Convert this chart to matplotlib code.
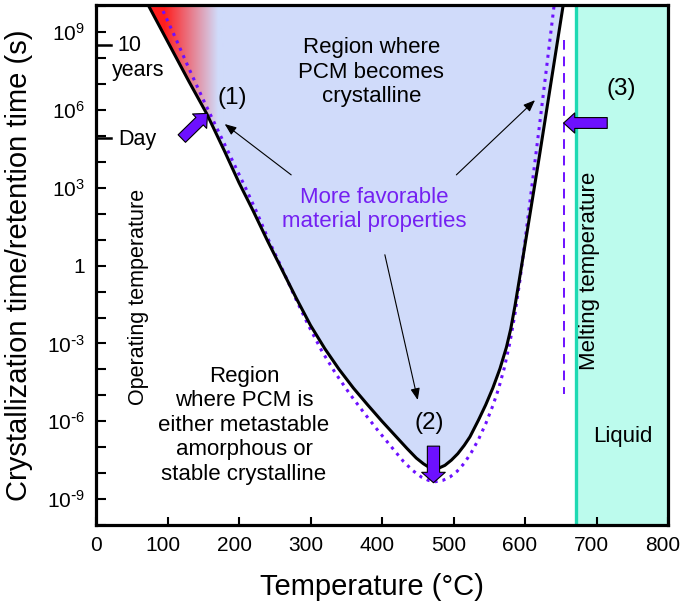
import numpy as np
import matplotlib.pyplot as plt
import matplotlib.transforms as mtransforms
from matplotlib.patches import FancyArrowPatch
from matplotlib.ticker import FixedLocator, FixedFormatter

plt.rcParams['font.family'] = ['Liberation Sans', 'DejaVu Sans']
plt.rcParams['mathtext.default'] = 'regular'

# Solid curve: crystallization time of the PCM (temperature in C, log10 of time in s)
curveTemps = [72, 100, 130, 155, 180, 200, 220, 240, 260, 280, 300, 320, 340, 360, 380,
              400, 420, 435, 448, 458, 466, 473, 480, 488, 497, 506, 515, 523, 535, 545,
              555, 565, 574, 580, 586, 592, 600, 610, 620, 630, 640, 650, 656]
curveLogTimes = [10.1, 8.65, 7.1, 5.85, 4.4, 3.2, 2.1, 0.95, -0.15, -1.25, -2.3, -3.2, -4.0, -4.72, -5.37,
                 -6.0, -6.6, -7.05, -7.42, -7.64, -7.78, -7.83, -7.8, -7.7, -7.5, -7.25, -6.93, -6.6, -5.95, -5.37,
                 -4.72, -3.97, -3.15, -2.45, -1.55, -0.55, 0.8, 2.5, 4.2, 5.95, 7.7, 9.45, 10.5]

# Dotted curve: more favorable material
betterTemps = [89, 110, 130, 150, 170, 190, 210, 225, 242, 260, 278, 297, 316, 335, 355,
               375, 395, 415, 430, 443, 455, 465, 475, 485, 495, 505, 515, 525, 535, 545,
               555, 563, 571, 579, 586, 593, 600, 610, 620, 630, 641]
betterLogTimes = [10.1, 8.85, 7.6, 6.4, 5.25, 4.1, 2.95, 2.05, 0.95, -0.1, -1.2, -2.3, -3.3, -4.15, -4.95,
                  -5.68, -6.38, -7.05, -7.55, -7.9, -8.15, -8.28, -8.33, -8.28, -8.15, -7.93, -7.62, -7.2, -6.7, -6.1,
                  -5.4, -4.75, -3.95, -2.95, -1.85, -0.55, 0.95, 3.15, 5.35, 7.6, 10.1]

meltTemp = 671
shiftedMeltTemp = 655
tenYears = 3.15e8
oneDay = 86400

xTicks = [0, 100, 200, 300, 400, 500, 600, 700, 800]
yDecades = list(range(-10, 11))
yLabelled = {9: '$10^{9}$', 6: '$10^{6}$', 3: '$10^{3}$', 0: '1',
             -3: r'$10^{\text{-}3}$', -6: r'$10^{\text{-}6}$', -9: r'$10^{\text{-}9}$'}

purple = '#6d10ff'
purpleText = '#7420f2'
fillBlue = '#d0dbfa'
liquidColor = '#bcfbed'
tealLine = '#1fd9b2'

fig = plt.figure(figsize=(6.84, 6.09), dpi=100)
ax = fig.add_axes([96/684, 84/609, 572/684, 520/609])
ax.set_yscale('log')

curveT = np.array(curveTemps)
curveY = 10.0 ** np.array(curveLogTimes)
betterT = np.array(betterTemps)
betterY = 10.0 ** np.array(betterLogTimes)

# Region where PCM crystallizes (blue fill with a red fade at the low-temperature corner)
region = ax.fill(curveT, curveY, color=fillBlue, lw=0, zorder=1)[0]
red = np.array([1.0, 0.12, 0.12])
blue = np.array([0xd0, 0xdb, 0xfa]) / 255.0
gradT = np.linspace(60, 180, 256)
frac = np.clip((gradT - 95) / 75.0, 0, 1)[None, :, None]
grad = red * (1 - frac) + blue * frac
img = ax.imshow(grad, extent=[60, 180, 1e-10, 10**10.5], aspect='auto', zorder=1.5,
                interpolation='bilinear')
img.set_clip_path(region)

# Liquid
ax.axvspan(meltTemp, 800, color=liquidColor, lw=0, zorder=1)
ax.axvline(meltTemp, color=tealLine, lw=2.4, zorder=3)
ax.plot([shiftedMeltTemp, shiftedMeltTemp], [10**8.69, 10**-4.96], color=purple,
        lw=1.4, linestyle=(0, (5, 3.5)), zorder=3)

# Curves
ax.plot(betterT, betterY, color=purple, lw=2.2, linestyle=':', zorder=4)
ax.plot(curveT, curveY, color='black', lw=2.2, zorder=5)

# Long ticks for 10 years and one day
ax.plot([0, 21], [tenYears, tenYears], color='black', lw=1.8, zorder=5)
ax.plot([0, 21], [oneDay, oneDay], color='black', lw=1.8, zorder=5)
ax.text(46, tenYears, '10', fontsize=15.5, ha='center', va='center')
ax.text(59, 10**7.54, 'years', fontsize=15.5, ha='center', va='center')
ax.text(31, 10**4.86, 'Day', fontsize=15.5, ha='left', va='center')

# Block arrows
def blockArrow(start, end, shaftW, headW, headL):
    arr = FancyArrowPatch(start, end, shrinkA=0, shrinkB=0, mutation_scale=1,
                          arrowstyle=f'simple,head_length={headL},head_width={headW},tail_width={shaftW}',
                          fc=purple, ec='black', lw=0.8, zorder=7)
    ax.add_patch(arr)

blockArrow((120, 10**4.9), (156, 10**5.87), 7.6, 14.5, 8)
blockArrow((472, 10**-6.96), (472, 10**-8.37), 8.8, 17, 7.5)
blockArrow((715, 10**5.5), (654, 10**5.5), 7.8, 14.5, 8)

# Thin arrows from the purple note
thin = dict(arrowstyle='-|>,head_length=0.7,head_width=0.28', color='black', lw=0.8,
            shrinkA=0, shrinkB=0)
ax.annotate('', xy=(180, 10**5.46), xytext=(273, 10**3.5), arrowprops=thin, zorder=6)
ax.annotate('', xy=(614, 10**6.38), xytext=(504, 10**3.5), arrowprops=thin, zorder=6)
ax.annotate('', xy=(450, 10**-5.18), xytext=(404, 10**0.42), arrowprops=thin, zorder=6)

# Texts
ax.text(385, 10**7.46, 'Region where\nPCM becomes\ncrystalline', fontsize=16,
        ha='center', va='center', linespacing=1.2, zorder=8)
ax.text(389, 10**2.15, 'More favorable\nmaterial properties', fontsize=16, color=purpleText,
        ha='center', va='center', linespacing=1.2, zorder=8)
ax.text(207, 10**-6.15, 'Region\nwhere PCM is\neither metastable\namorphous or\nstable crystalline',
        fontsize=16, ha='center', va='center', linespacing=1.22, zorder=8)
ax.text(59, 10**-1.2, 'Operating temperature', fontsize=15.5, rotation=90,
        ha='center', va='center', zorder=8)
ax.text(690, 10**-0.2, 'Melting temperature', fontsize=16, rotation=90,
        ha='center', va='center', zorder=8)
ax.text(737, 10**-6.58, 'Liquid', fontsize=16, ha='center', va='center', zorder=8)
ax.text(190, 10**6.45, '(1)', fontsize=17.5, ha='center', va='center', zorder=8)
ax.text(466, 10**-6.08, '(2)', fontsize=17.5, ha='center', va='center', zorder=8)
ax.text(734, 10**6.83, '(3)', fontsize=17.5, ha='center', va='center', zorder=8)

# Axes
ax.set_xlim(0, 800)
ax.set_ylim(1e-10, 10**10.05)
ax.xaxis.set_major_locator(FixedLocator(xTicks))
ax.yaxis.set_major_locator(FixedLocator([10.0**d for d in yDecades]))
ax.yaxis.set_major_formatter(FixedFormatter([yLabelled.get(d, '') for d in yDecades]))
ax.yaxis.set_minor_locator(FixedLocator([]))
ax.tick_params(direction='in', length=7, width=1.5, labelsize=15, pad=8)
ax.tick_params(axis='x', length=6)
for spine in ax.spines.values():
    spine.set_linewidth(2.3)
    spine.set_zorder(10)

# three-digit x tick labels sit a little left of their ticks in the original
shift = mtransforms.ScaledTranslation(-5/100, 0, fig.dpi_scale_trans)
for lbl in ax.get_xticklabels()[1:]:
    lbl.set_transform(lbl.get_transform() + shift)

ax.set_xlabel('Temperature (°C)', fontsize=21)
ax.set_ylabel('Crystallization time/retention time (s)', fontsize=21)
ax.xaxis.set_label_coords(0.483, -0.092)
ax.yaxis.set_label_coords(-0.11, 0.5)

fig.savefig('out.png', dpi=100)
